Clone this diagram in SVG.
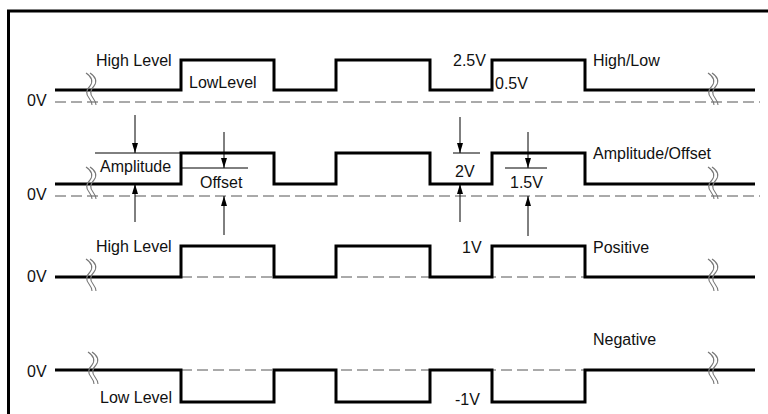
<svg xmlns="http://www.w3.org/2000/svg" width="768" height="414" viewBox="0 0 768 414">
<style>
.sig{fill:none;stroke:#000;stroke-width:3;stroke-linejoin:miter}
.dash{fill:none;stroke:#555;stroke-width:1;stroke-dasharray:11 5}
.thin{fill:none;stroke:#000;stroke-width:1}
.brk{fill:none;stroke:#777;stroke-width:1.1}
.t{font-family:"Liberation Sans",Arial,sans-serif;font-size:16px;fill:#111}
</style>
<defs>
<marker id="ah" viewBox="0 0 10 6" refX="10" refY="3" markerWidth="10" markerHeight="6" markerUnits="userSpaceOnUse" orient="auto">
<path d="M0,0 L10,3 L0,6 z" fill="#000"/>
</marker>
<g id="brkSym">
<path class="brk" d="M-3,-16 Q6,-10 1,-3 Q-5,3 0,9 Q3,13 3,16"/>
<path class="brk" d="M1,-16 Q10,-10 5,-3 Q-1,3 4,9 Q7,13 7,16"/>
</g>
</defs>
<rect x="8.5" y="11" width="800" height="450" fill="none" stroke="#000" stroke-width="3"/>

<g id="row-highlow">
<line class="dash" x1="55" y1="102" x2="760" y2="102"/>
<path class="sig" d="M55,90 H181 V60 H274 V90 H336 V60 H430 V90 H492 V60 H585 V90 H755"/>
<use href="#brkSym" x="89" y="89"/>
<use href="#brkSym" x="711" y="89"/>
<text class="t" x="27" y="106">0V</text>
<text class="t" x="96" y="66">High Level</text>
<text class="t" x="189" y="88">LowLevel</text>
<text class="t" x="453" y="66">2.5V</text>
<text class="t" x="495" y="89">0.5V</text>
<text class="t" x="593" y="66">High/Low</text>
</g>

<g id="row-amplitude">
<line class="dash" x1="55" y1="196" x2="760" y2="196"/>
<path class="sig" d="M55,184 H181 V153 H274 V184 H336 V153 H430 V184 H492 V153 H585 V184 H755"/>
<use href="#brkSym" x="89" y="183"/>
<use href="#brkSym" x="711" y="183"/>
<text class="t" x="27" y="200">0V</text>
<text class="t" x="100" y="172">Amplitude</text>
<text class="t" x="200" y="188">Offset</text>
<text class="t" x="455" y="177">2V</text>
<text class="t" x="510" y="188">1.5V</text>
<text class="t" x="593" y="159">Amplitude/Offset</text>
</g>

<g id="row-positive">
<line class="dash" x1="181" y1="277" x2="585" y2="277"/>
<path class="sig" d="M55,277 H181 V246 H274 V277 H336 V246 H430 V277 H492 V246 H585 V277 H755"/>
<use href="#brkSym" x="89" y="275"/>
<use href="#brkSym" x="711" y="275"/>
<text class="t" x="27" y="282">0V</text>
<text class="t" x="96" y="252">High Level</text>
<text class="t" x="462" y="253">1V</text>
<text class="t" x="593" y="253">Positive</text>
</g>

<g id="row-negative">
<line class="dash" x1="181" y1="370" x2="585" y2="370"/>
<path class="sig" d="M55,370 H181 V402 H274 V370 H336 V402 H430 V370 H492 V402 H585 V370 H755"/>
<use href="#brkSym" x="91" y="368"/>
<use href="#brkSym" x="711" y="368"/>
<text class="t" x="27" y="377">0V</text>
<text class="t" x="100" y="403">Low Level</text>
<text class="t" x="455" y="405">-1V</text>
<text class="t" x="593" y="345">Negative</text>
</g>

<g id="connectors">
<line class="thin" x1="95" y1="153" x2="181" y2="153"/>
<line class="thin" x1="181" y1="168" x2="248" y2="168"/>
<line class="thin" x1="453" y1="153" x2="480" y2="153"/>
<line class="thin" x1="505" y1="168" x2="547" y2="168"/>
<line class="thin" x1="135" y1="115" x2="135" y2="153" marker-end="url(#ah)"/>
<line class="thin" x1="135" y1="222" x2="135" y2="184" marker-end="url(#ah)"/>
<line class="thin" x1="224" y1="132" x2="224" y2="168" marker-end="url(#ah)"/>
<line class="thin" x1="224" y1="235" x2="224" y2="196" marker-end="url(#ah)"/>
<line class="thin" x1="460" y1="117" x2="460" y2="153" marker-end="url(#ah)"/>
<line class="thin" x1="460" y1="222" x2="460" y2="184" marker-end="url(#ah)"/>
<line class="thin" x1="528" y1="132" x2="528" y2="168" marker-end="url(#ah)"/>
<line class="thin" x1="528" y1="236" x2="528" y2="196" marker-end="url(#ah)"/>
</g>
</svg>
